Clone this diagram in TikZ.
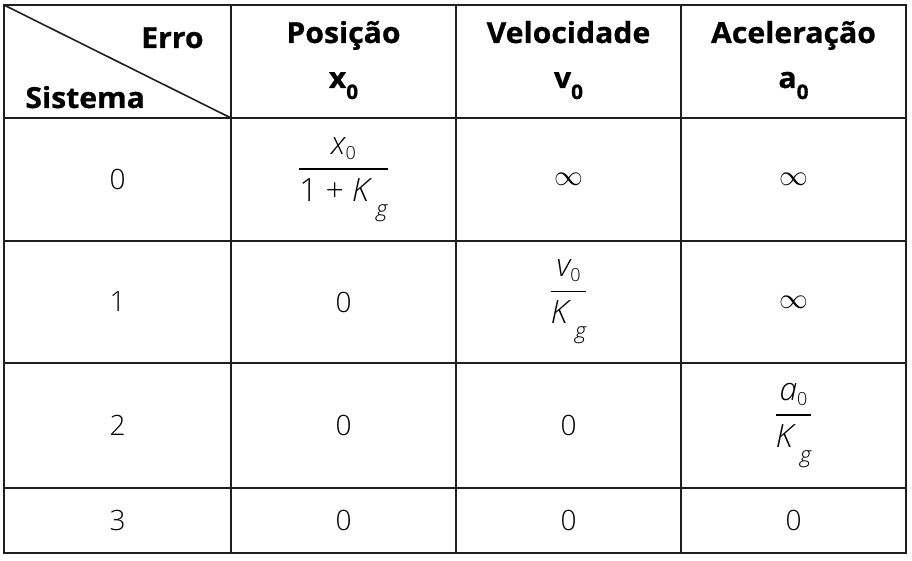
\documentclass[tikz,border=0pt]{standalone}
\usepackage{amsmath}
\usepackage{fontspec}
\setmainfont{Open Sans}
\newfontfamily\lightfam{Open Sans Light}[ItalicFont={Open Sans Light Italic}]
\newfontfamily\headfam{Open Sans}[UprightFont={* Bold},FakeStretch=1.04,FakeBold=0.8]
\usetikzlibrary{positioning}

\newcommand{\headfont}{\headfam\fontsize{14.5}{17}\selectfont}
\newcommand{\bodyfont}{\lightfam\fontsize{14}{17}\selectfont}
\newcommand{\headidx}[1]{\raisebox{-5.5pt}{\fontsize{10}{10}\selectfont #1}}
\newcommand{\numidx}[1]{\raisebox{-2.5pt}{\fontsize{9}{9}\selectfont\upshape #1}}
\newcommand{\gidx}{\kern3.5pt\raisebox{-7.5pt}{\fontsize{11}{11}\selectfont\itshape g}}
\newcommand{\ratio}[2]{{\fontsize{16}{19}\selectfont$\genfrac{}{}{0.75pt}{0}{\text{#1}}{\text{#2}}$}}

\begin{document}
\begin{tikzpicture}[x=0.5pt,y=-0.5pt,
    rule/.style={draw=black!88,line width=1.1pt},
    head/.style={font=\headfont,inner sep=0pt,anchor=base},
    cell/.style={font=\bodyfont,inner sep=0pt}]
    \useasboundingbox (0,0) rectangle (912,561);

    % grid
    \draw[rule] (4,5) rectangle (906,553);
    \draw[rule] (4,118) -- (906,118);
    \draw[rule] (4,241) -- (906,241);
    \draw[rule] (4,363) -- (906,363);
    \draw[rule] (4,488) -- (906,488);
    \draw[rule] (231,5) -- (231,553);
    \draw[rule] (456,5) -- (456,553);
    \draw[rule] (681,5) -- (681,553);
    \draw[rule,line width=0.8pt] (4,5) -- (231,118);

    % header
    \node[head,anchor=base east] (erro)    at (204,48)   {Erro};
    \node[head,anchor=base west] (sistema) at (25,108)   {Sistema};
    \node[head] (posicao)    at (343.5,43) {Posição};
    \node[head] (x0)         at (343.5,88) {x\headidx{0}};
    \node[head] (velocidade) at (568.5,43) {Velocidade};
    \node[head] (v0)         at (568.5,88) {v\headidx{0}};
    \node[head] (aceleracao) at (793.5,43) {Aceleração};
    \node[head] (a0)         at (793.5,88) {a\headidx{0}};

    % system 0
    \node[cell] (sys0) at (117.5,179.5) {0};
    \node[cell] (pos0) at (343.5,179.5) {\ratio{\itshape x\numidx{0}}{1\kern4pt+\kern4pt\itshape K\gidx}};
    \node[cell] (vel0) at (568.5,179.5) {$\infty$};
    \node[cell] (acc0) at (793.5,179.5) {$\infty$};

    % system 1
    \node[cell] (sys1) at (117.5,302) {1};
    \node[cell] (pos1) at (343.5,302) {0};
    \node[cell] (vel1) at (568.5,302) {\ratio{\itshape v\numidx{0}}{\itshape K\gidx}};
    \node[cell] (acc1) at (793.5,302) {$\infty$};

    % system 2
    \node[cell] (sys2) at (117.5,425.5) {2};
    \node[cell] (pos2) at (343.5,425.5) {0};
    \node[cell] (vel2) at (568.5,425.5) {0};
    \node[cell] (acc2) at (793.5,425.5) {\ratio{\itshape a\numidx{0}}{\itshape K\gidx}};

    % system 3
    \node[cell] (sys3) at (117.5,520.5) {3};
    \node[cell] (pos3) at (343.5,520.5) {0};
    \node[cell] (vel3) at (568.5,520.5) {0};
    \node[cell] (acc3) at (793.5,520.5) {0};
\end{tikzpicture}
\end{document}
